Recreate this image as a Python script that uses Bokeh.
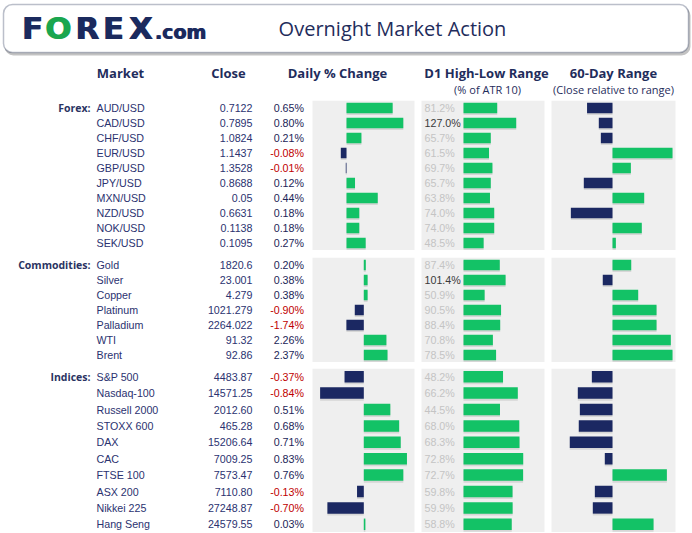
from bokeh.plotting import figure
from bokeh.models import ColumnDataSource, Range1d, FactorRange, BoxAnnotation
from bokeh.layouts import column
from bokeh.transform import dodge
from bokeh.core.properties import value
from bokeh.embed import file_html
from bokeh.resources import INLINE

# ---------------- data ----------------
columns = ["Market", "Close", "Daily % Change", "D1 High-Low Range", "60-Day Range"]
sub_columns = ["(% of ATR 10)", "(Close relative to range)"]

forex_markets = ["AUD/USD", "CAD/USD", "CHF/USD", "EUR/USD", "GBP/USD",
                 "JPY/USD", "MXN/USD", "NZD/USD", "NOK/USD", "SEK/USD"]
forex_close = ["0.7122", "0.7895", "1.0824", "1.1437", "1.3528",
               "0.8688", "0.05", "0.6631", "0.1138", "0.1095"]
forex_change = [0.65, 0.80, 0.21, -0.08, -0.01, 0.12, 0.44, 0.18, 0.18, 0.27]
forex_atr = [81.2, 127.0, 65.7, 61.5, 69.7, 65.7, 63.8, 74.0, 74.0, 48.5]
forex_range60 = [28.8, 38.6, 40.3, 100.0, 65.3, 26.1, 76.4, 15.3, 74.4, 52.8]

comm_markets = ["Gold", "Silver", "Copper", "Platinum", "Palladium", "WTI", "Brent"]
comm_close = ["1820.6", "23.001", "4.279", "1021.279", "2264.022", "91.32", "92.86"]
comm_change = [0.20, 0.38, 0.38, -0.90, -1.74, 2.26, 2.37]
comm_atr = [87.4, 101.4, 50.9, 90.5, 88.4, 70.8, 78.5]
comm_range60 = [65.6, 41.9, 71.4, 86.7, 86.7, 98.6, 100.0]

idx_markets = ["S&P 500", "Nasdaq-100", "Russell 2000", "STOXX 600", "DAX",
               "CAC", "FTSE 100", "ASX 200", "Nikkei 225", "Hang Seng"]
idx_close = ["4483.87", "14571.25", "2012.60", "465.28", "15206.64",
             "7009.25", "7573.47", "7110.80", "27248.87", "24579.55"]
idx_change = [-0.37, -0.84, 0.51, 0.68, 0.71, 0.83, 0.76, -0.13, -0.70, 0.03]
idx_atr = [48.2, 66.2, 44.5, 68.0, 68.3, 72.8, 72.7, 59.8, 59.9, 58.8]
idx_range60 = [32.8, 21.1, 22.8, 21.9, 14.4, 43.6, 95.3, 35.3, 33.6, 84.2]

# ---------------- style ----------------
NAVY = "#1b2a5e"
GREEN = "#13c266"
BARNAVY = "#1b2862"
TXT = "#2b3270"
RED = "#c00000"
PANEL = "#efefef"
DATA_FONT = value("Liberation Sans")
HEAD_FONT = value("Open Sans")
W = 692
X0, X1 = 0, 692


def base_fig(height, y_range, top_gap=0):
    p = figure(width=W, height=height, x_range=Range1d(X0, X1), y_range=y_range,
               x_axis_type=None, y_axis_type=None, toolbar_location=None,
               output_backend="svg", min_border_left=0, min_border_right=0,
               min_border_bottom=0, min_border_top=top_gap)
    p.outline_line_color = None
    p.background_fill_color = "white"
    p.border_fill_color = "white"
    return p


# ---------------- header ----------------
H = 100
hdr = base_fig(H, Range1d(0, H))
hdr.add_layout(BoxAnnotation(left=4, right=690, top=94, bottom=45, fill_color="#7a7a7a",
                             fill_alpha=0.45, line_color=None, border_radius=9, level="underlay"))
hdr.add_layout(BoxAnnotation(left=3, right=688, top=96, bottom=48, fill_color="white",
                             fill_alpha=1, line_color="#1d2b4f", line_width=1.5,
                             border_radius=9, level="underlay"))

logo_letters = ["F", "O", "R", "E", "X"]
logo_x = [31.7, 57.5, 86.5, 112.5, 140]
logo_col = [NAVY, "#1aa64f", NAVY, NAVY, NAVY]
for dx in (0, 0.9):
    hdr.text(x=[v + dx for v in logo_x], y=[72.5] * 5, text=logo_letters, text_color=logo_col,
             text_font=value("DejaVu Sans"), text_font_style="bold", text_font_size="31px",
             text_align="center", text_baseline="middle")
    hdr.text(x=[154 + dx], y=[69], text=[".com"], text_color=NAVY,
             text_font=value("DejaVu Sans"), text_font_style="bold", text_font_size="19px",
             text_align="left", text_baseline="middle")
hdr.text(x=[392], y=[72], text=["Overnight Market Action"], text_color="#1f2d5c",
         text_font=HEAD_FONT, text_font_size="20px", text_align="center",
         text_baseline="middle")

col_x = [120, 228, 337, 486, 613]
hdr.text(x=col_x, y=[28] * 5, text=columns, text_color="#1f2d5c", text_font=HEAD_FONT,
         text_font_style="bold", text_font_size="13px", text_align="center",
         text_baseline="middle")
hdr.text(x=[487, 613], y=[11, 11], text=sub_columns, text_color="#1f2d5c",
         text_font=HEAD_FONT, text_font_size="11px", text_align="center",
         text_baseline="middle")


# ---------------- groups ----------------
def group_fig(label, markets, close, change, atr, r60, frame_h, top_gap,
              daily_zero, daily_scale, atr_scale):
    yr = FactorRange(factors=list(reversed(markets)), range_padding=0)
    p = base_fig(frame_h + top_gap, yr, top_gap)
    atr_zero, r60_zero, r60_scale = 463, 612, 1.2
    p.extra_x_ranges = {
        "daily": Range1d((X0 - daily_zero) / daily_scale, (X1 - daily_zero) / daily_scale),
        "atr": Range1d((X0 - atr_zero) / atr_scale, (X1 - atr_zero) / atr_scale),
        "r60": Range1d(50 + (X0 - r60_zero) / r60_scale, 50 + (X1 - r60_zero) / r60_scale),
    }
    for l, r in [(312, 414), (421, 544), (551, 675)]:
        p.add_layout(BoxAnnotation(left=l, right=r, fill_color=PANEL, fill_alpha=1,
                                   line_color=None, level="underlay"))

    src = ColumnDataSource(dict(
        market=markets,
        close=close,
        chg=change,
        chg_lbl=[f"{v:.2f}%" for v in change],
        chg_col=[RED if v < 0 else "#1c2557" for v in change],
        chg_bar=[BARNAVY if v < 0 else GREEN for v in change],
        atr=atr,
        atr_lbl=[f"{v:.1f}%" for v in atr],
        atr_col=["#3a3a3a" if v >= 100 else "#c4c4c4" for v in atr],
        r60=r60,
        r60_bar=[BARNAVY if v < 50 else GREEN for v in r60],
    ))

    common = dict(text_font=DATA_FONT, text_font_size="10.7px", text_baseline="middle",
                  source=src)
    p.text(x=[90], y=[markets[0]], text=[label], text_color="#2a3362", text_font=HEAD_FONT,
           text_font_style="bold", text_font_size="10.5px", text_align="right",
           text_baseline="middle")
    p.text(x=96, y="market", text="market", text_color=TXT, text_align="left", **common)
    p.text(x=252, y="market", text="close", text_color=TXT, text_align="right", **common)
    p.text(x=303.5, y="market", text="chg_lbl", text_color="chg_col", text_align="right",
           **common)
    p.text(x=424, y="market", text="atr_lbl", text_color="atr_col", text_align="left",
           **common)

    shadow_y = dodge("market", -0.1, range=yr)
    bars = [("daily", 0, "chg", "chg_bar"), ("atr", 0, "atr", None), ("r60", 50, "r60", "r60_bar")]
    for rng, left, right, colf in bars:
        p.hbar(y=shadow_y, left=left, right=right, height=0.72, x_range_name=rng,
               fill_color="#555555", fill_alpha=0.16, line_color=None, source=src)
        p.hbar(y="market", left=left, right=right, height=0.7, x_range_name=rng,
               fill_color=colf if colf else GREEN, line_color=None, source=src)
    return p


fx = group_fig("Forex:", forex_markets, forex_close, forex_change, forex_atr, forex_range60,
               150, 0, 346, 71, 0.415)
cm = group_fig("Commodities:", comm_markets, comm_close, comm_change, comm_atr, comm_range60,
               105, 7, 363.3, 10, 0.415)
ix = group_fig("Indices:", idx_markets, idx_close, idx_change, idx_atr, idx_range60,
               164, 6, 363.3, 52, 0.82)

layout = column(hdr, fx, cm, ix, spacing=0)
open("out.html", "w").write(file_html(layout, INLINE))
